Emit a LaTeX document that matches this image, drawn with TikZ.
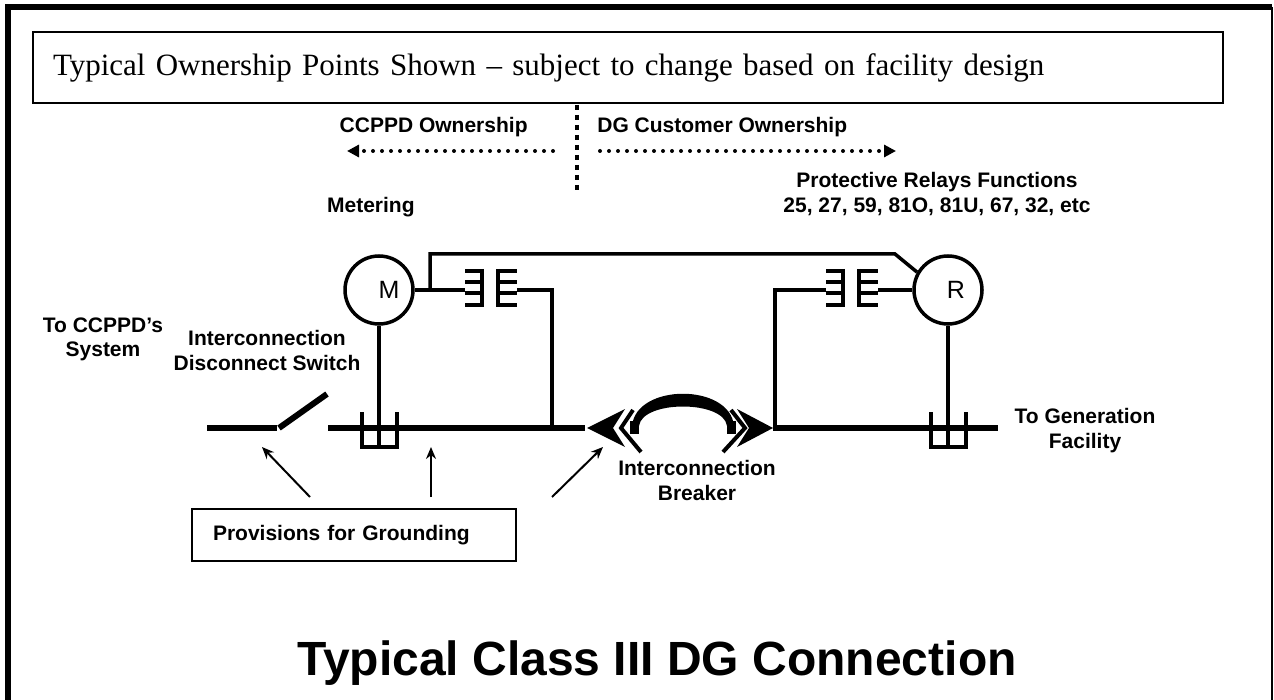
\documentclass[tikz,border=0pt]{standalone}
\usepackage{fontspec}
\setmainfont{Liberation Serif}
\setsansfont{Liberation Sans}
\usetikzlibrary{arrows.meta}

\begin{document}
\begin{tikzpicture}[x=0.5pt, y=-0.5pt,
  labeltext/.style={font=\sffamily\bfseries\fontsize{10.5}{12.5}\selectfont, align=center, inner sep=0pt},
  bus/.style={line width=3pt},
  wire/.style={line width=1.75pt},
  coilbar/.style={line width=2pt},
  ownership/.style={line width=2pt, dash pattern=on 0pt off 4.5pt, line cap=round},
  groundarrow/.style={line width=1pt, -{Stealth[length=6pt,width=5pt]}},
  meter/.style={circle, draw, line width=1.75pt, minimum size=34pt, inner sep=0pt},
]
\useasboundingbox (0,0) rectangle (1274,700);

% frame round the slide
\draw[line width=3pt] (8,700) -- (8,7.5) -- (1272,7.5);
\draw[line width=1pt] (1272,7.5) -- (1272,700);

\node[draw, line width=1pt, minimum width=595pt, minimum height=35.5pt,
      inner xsep=10pt, text width=575pt, align=left,
      font=\fontsize{15.5}{18.5}\selectfont] (header) at (628,67.5)
  {Typical Ownership Points Shown -- subject to change based on facility design};

% ownership split
\coordinate (splitTop) at (577,105);
\coordinate (splitBot) at (577,193);
\draw[line width=2pt, dash pattern=on 2.5pt off 2.5pt] (splitTop) -- (splitBot);

\node[labeltext, anchor=base east] (ccppd) at (528,133) {CCPPD Ownership};
\node[labeltext, anchor=base west] (dgcust) at (597,133) {DG Customer Ownership};

\coordinate (ownL) at (553,151);
\coordinate (ownLend) at (347,151);
\coordinate (ownR) at (600,151);
\coordinate (ownRend) at (896,151);
\draw[ownership, -{Triangle[length=6pt,width=6pt]}] (ownL) -- (ownLend);
\draw[ownership, -{Triangle[length=6pt,width=6pt]}] (ownR) -- (ownRend);

\node[labeltext, anchor=base east] (metering) at (415,213) {Metering};
\node[labeltext, anchor=base] (relays) at (937,213)
  {Protective Relays Functions\\25, 27, 59, 81O, 81U, 67, 32, etc};

% meter and relay
\node[meter, label={[xshift=5pt, font=\sffamily\fontsize{12.5}{14}\selectfont]center:M}] (M) at (379,290) {};
\node[meter, label={[xshift=4pt, font=\sffamily\fontsize{12.5}{14}\selectfont]center:R}] (R) at (948,290) {};

% current transformers
\foreach \cx in {465,826} {
  \draw[coilbar] ({\cx+17},269) -- ({\cx+17},307);
  \draw[coilbar] ({\cx+33},269) -- ({\cx+33},307);
  \foreach \cy in {271,282,293,305} {
    \draw[coilbar] (\cx,\cy) -- ({\cx+17},\cy);
    \draw[coilbar] ({\cx+33},\cy) -- ({\cx+52},\cy);
  }
}

% grounding studs on the bus
\foreach \gx in {379,948}
  \draw[coilbar] ({\gx-17},412) -- ({\gx-17},447) -- ({\gx+18},447) -- ({\gx+18},412);

% secondary wiring
\draw[wire] (M.east) -- (465,290);
\draw[wire] (430,290) -- (430,254) -- (895,254) -- (R.150);
\draw[wire] (517,290) -- (552,290) -- (552,428);
\draw[wire] (775,428) -- (775,290) -- (826,290);
\draw[wire] (878,290) -- (R.west);
\draw[wire] (M.south) -- (379,447);
\draw[wire] (R.south) -- (948,447);

% main bus with disconnect switch
\coordinate (busW) at (207,428);
\coordinate (swHinge) at (277,428);
\coordinate (swTip) at (327,394);
\coordinate (busM) at (328,428);
\coordinate (brkW) at (585,428);
\coordinate (brkE) at (773,428);
\coordinate (busE) at (998,428);
\draw[bus] (busW) -- (swHinge);
\draw[bus] ([xshift=1pt]swHinge) -- (swTip);
\draw[bus] (busM) -- (brkW);
\draw[bus] (brkE) -- (busE);

% draw-out breaker
\fill (587,428) -- (625,409) -- (613,428) -- (625,447) -- cycle;
\draw[line width=2pt] (633,410) -- (621,428) -- (641,452);
\fill (632,426) .. controls (636,383) and (730,383) .. (734,426)
  -- (727,426) .. controls (724,400) and (642,400) .. (639,426) -- cycle;
\fill (630,421) rectangle (639,434);
\fill (727,421) rectangle (736,434);
\draw[line width=2pt] (731,410) -- (745,428) -- (723,452);
\fill (773,428) -- (737,409) -- (749,428) -- (737,447) -- cycle;

\node[labeltext, anchor=base] (tosys) at (103,357) {To CCPPD's\\System};
\node[labeltext, anchor=base] (discsw) at (267,370) {Interconnection\\Disconnect Switch};
\node[labeltext, anchor=base] (togen) at (1085,448) {To Generation\\Facility};
\node[labeltext, anchor=base] (brklbl) at (697,500) {Interconnection\\Breaker};

\node[draw, line width=1pt, minimum width=162pt, minimum height=26pt,
      inner xsep=10.5pt, text width=141pt, align=left,
      font=\sffamily\bfseries\fontsize{10.5}{12.5}\selectfont] (prov) at (354,535)
  {Provisions for Grounding};

\coordinate (gndSw) at (262,447);
\coordinate (gndBus) at (431,447);
\coordinate (gndBrk) at (603,447);
\coordinate (provA) at (310,497);
\coordinate (provB) at (431,497);
\coordinate (provC) at (552,497);
\draw[groundarrow] (provA) -- (gndSw);
\draw[groundarrow] (provB) -- (gndBus);
\draw[groundarrow] (provC) -- (gndBrk);

\node[font=\sffamily\bfseries\fontsize{24}{28}\selectfont, anchor=base, inner sep=0pt] (title) at (657,675)
  {Typical Class III DG Connection};

\end{tikzpicture}
\end{document}
